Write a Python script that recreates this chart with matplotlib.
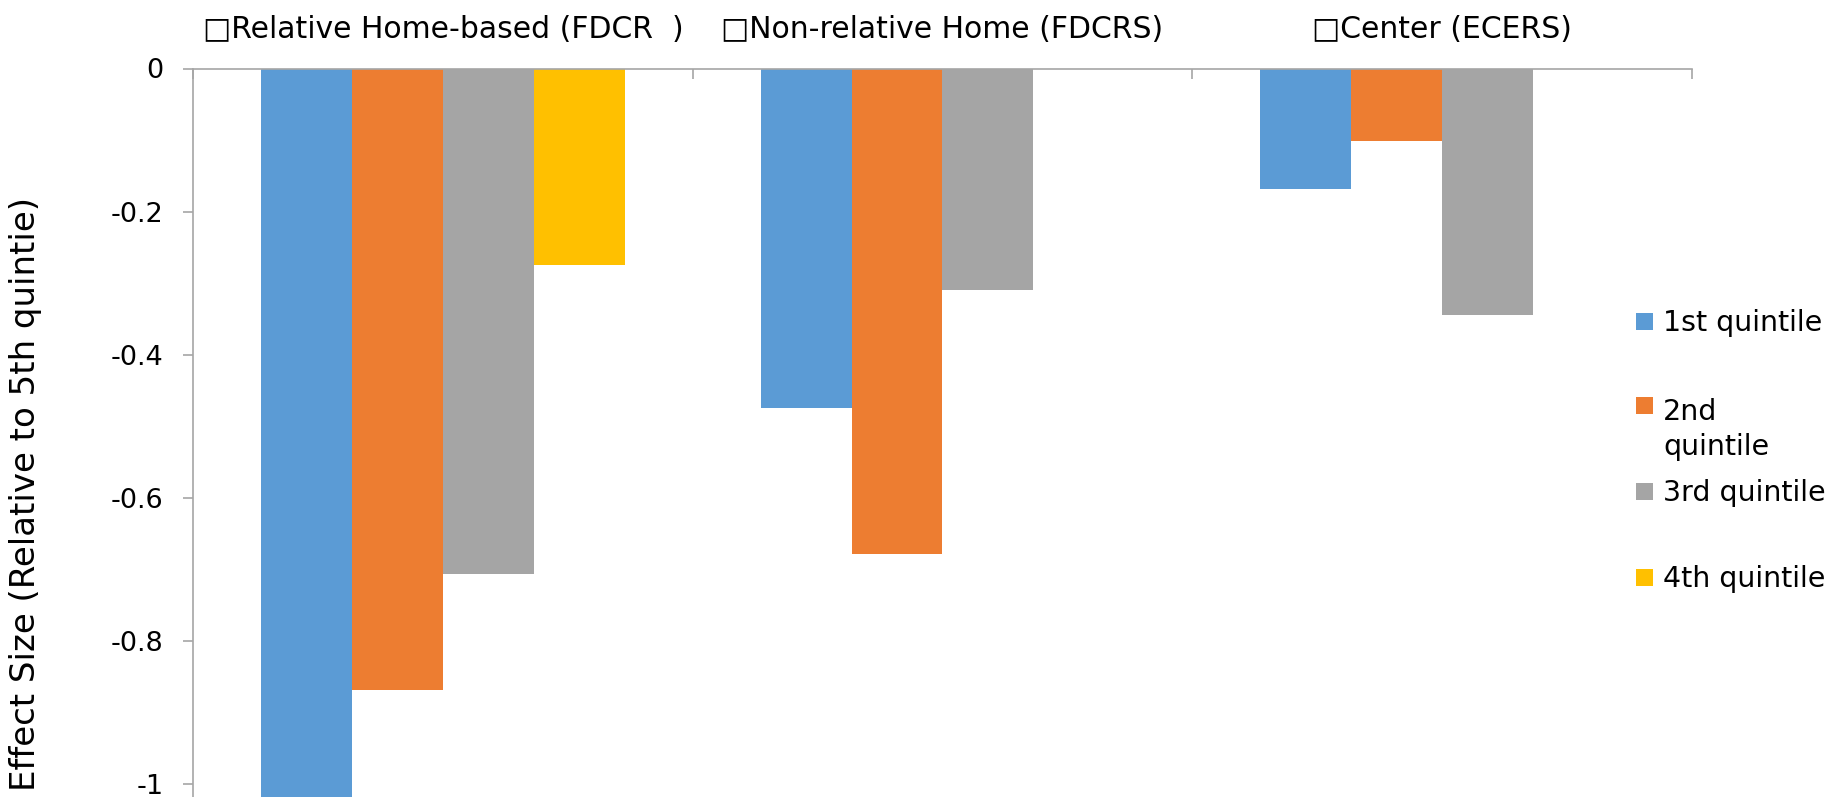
import matplotlib
matplotlib.use('Agg')
import matplotlib.pyplot as plt
import numpy as np
from matplotlib.patches import Rectangle
from matplotlib.ticker import FuncFormatter

categories = ["\u25a1Relative Home-based (FDCR  )", "\u25a1Non-relative Home (FDCRS)", "\u25a1Center (ECERS)"]
series_names = ["1st quintile", "2nd\nquintile", "3rd quintile", "4th quintile"]
q1 = [-1.05, -0.475, -0.168]
q2 = [-0.868, -0.679, -0.101]
q3 = [-0.706, -0.310, -0.344]
q4 = [-0.274, np.nan, np.nan]
colors = ['#5B9BD5', '#ED7D31', '#A5A5A5', '#FFC000']
yticks = [0, -0.2, -0.4, -0.6, -0.8, -1]
ylabel = "Effect Size (Relative to 5th quintie)"

plt.rcParams['font.family'] = ['DejaVu Sans']
plt.rcParams['axes.unicode_minus'] = False
FS = 20.5
W, H = 1834, 797

fig = plt.figure(figsize=(W / 100, H / 100), dpi=100)
ax = fig.add_axes([193 / W, 0.0, (1692 - 193) / W, 1 - 68.5 / H])
x = np.arange(len(categories))
bw = 1 / 5.5
for i, (vals, c) in enumerate(zip([q1, q2, q3, q4], colors)):
    ax.bar(x + (i - 1.5) * bw, vals, width=bw, color=c, linewidth=0)

ax.set_xlim(-0.5, 2.5)
ax.set_ylim(-1.018, 0)

for s in ['right', 'bottom']:
    ax.spines[s].set_visible(False)
for s in ['left', 'top']:
    ax.spines[s].set_color('#A6A6A6')
    ax.spines[s].set_linewidth(1.2)

ax.xaxis.tick_top()
ax.set_xticks([-0.5, 0.5, 1.5, 2.5])
ax.set_xticklabels([])
ax.set_xticks(x, minor=True)
ax.set_xticklabels(categories, minor=True, fontsize=21.5)
ax.tick_params(axis='x', which='major', direction='in', length=7, color='#A6A6A6', width=1.2)
ax.tick_params(axis='x', which='minor', length=0, pad=18)

ax.set_yticks(yticks)
ax.yaxis.set_major_formatter(FuncFormatter(lambda v, p: '%g' % v))
ax.tick_params(axis='y', direction='out', length=7, pad=14, color='#A6A6A6', width=1.2, labelsize=19.5)

fig.text(26 / W, 1 - 197 / H, ylabel, rotation=90, ha='center', va='top', fontsize=24.5)

em_px = FS * 100 / 72
line_gap = 40
centers = [321, 405, 491, 577]
for name, c, yc_px in zip(series_names, colors, centers):
    yc = 1 - yc_px / H
    fig.add_artist(Rectangle((1636 / W, yc - 8.5 / H), 17 / W, 17 / H, transform=fig.transFigure,
                             facecolor=c, edgecolor='none'))
    nlines = name.count('\n') + 1
    yb = yc - 0.36 * em_px / H - (nlines - 1) * line_gap / H
    fig.text(1663 / W, yb, name, ha='left', va='baseline', fontsize=FS, linespacing=1.35)

fig.savefig('out.png', dpi=100)
